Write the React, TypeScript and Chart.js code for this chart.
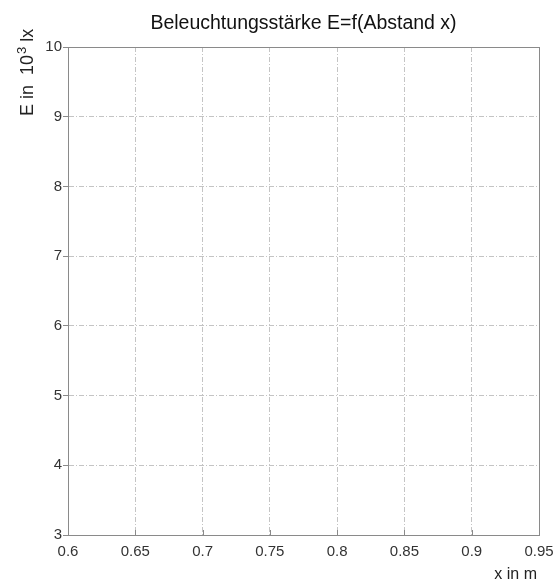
import React, { useEffect, useRef } from "react";
import { Chart, registerables } from "chart.js";

Chart.register(...registerables);

const xTicks: number[] = [0.6, 0.65, 0.7, 0.75, 0.8, 0.85, 0.9, 0.95];
const yTicks: number[] = [3, 4, 5, 6, 7, 8, 9, 10];
const xLabels: string[] = ["0.6", "0.65", "0.7", "0.75", "0.8", "0.85", "0.9", "0.95"];
const yLabels: string[] = ["3", "4", "5", "6", "7", "8", "9", "10"];
const titleText = "Beleuchtungsstärke E=f(Abstand x)";
const xTitle = "x in m";
const yTitleMain = "E in 10";
const yTitleSup = "3";
const yTitleEnd = " lx";

const FONT = "'Liberation Sans', Arial, sans-serif";

export default function App() {
  const ref = useRef<HTMLCanvasElement | null>(null);
  useEffect(() => {
    if (!ref.current) return;
    const decor = {
      id: "decor",
      afterDraw(chart: any) {
        const ctx = chart.ctx as CanvasRenderingContext2D;
        const a = chart.chartArea;
        const xs = chart.scales.x;
        ctx.save();
        // frame
        ctx.strokeStyle = "#8a8a8a";
        ctx.lineWidth = 1;
        ctx.setLineDash([]);
        ctx.strokeRect(a.left + 0.5, a.top + 0.5, a.right - a.left, a.bottom - a.top);
        // inward x ticks
        ctx.beginPath();
        xTicks.forEach((v) => {
          const px = Math.round(xs.getPixelForValue(v)) + 0.5;
          ctx.moveTo(px, a.bottom);
          ctx.lineTo(px, a.bottom - 5);
        });
        ctx.stroke();
        // title
        ctx.fillStyle = "#111";
        ctx.font = `19.5px ${FONT}`;
        ctx.textAlign = "center";
        ctx.textBaseline = "alphabetic";
        ctx.fillText(titleText, (a.left + a.right) / 2, 29);
        // x title
        ctx.font = `16px ${FONT}`;
        ctx.textAlign = "right";
        ctx.fillStyle = "#222";
        ctx.fillText(xTitle, a.right - 2, 579);
        // y title rotated
        ctx.translate(33, 116);
        ctx.rotate(-Math.PI / 2);
        ctx.textAlign = "left";
        ctx.font = `18px ${FONT}`;
        let x = 0;
        ctx.fillText("E in  10", x, 0);
        x += ctx.measureText("E in  10").width + 1;
        ctx.font = `13px ${FONT}`;
        ctx.fillText(yTitleSup, x, -7);
        x += ctx.measureText(yTitleSup).width;
        ctx.font = `18px ${FONT}`;
        ctx.fillText(yTitleEnd, x, 0);
        ctx.restore();
      },
    };
    const chart = new Chart(ref.current, {
      type: "scatter",
      data: { datasets: [{ data: [] }] },
      plugins: [decor],
      options: {
        animation: false,
        responsive: false,
        layout: { padding: { left: 0, top: 47, right: 17, bottom: 0 } },
        plugins: { legend: { display: false }, tooltip: { enabled: false }, title: { display: false } },
        scales: {
          x: {
            type: "linear",
            min: 0.6,
            max: 0.95,
            afterBuildTicks: (s: any) => {
              s.ticks = xTicks.map((v) => ({ value: v }));
            },
            afterFit: (s: any) => {
              s.height = 47;
              s.paddingLeft = 0;
              s.paddingRight = 0;
            },
            ticks: {
              autoSkip: false,
              maxRotation: 0,
              padding: 8,
              color: "#333",
              font: { family: FONT, size: 15 },
              callback: (v: any, i: number) => xLabels[i],
            },
            grid: { color: "#c4c4c4", lineWidth: 1, drawTicks: false },
            border: { display: true, color: "#8a8a8a", dash: [5, 2, 1, 2] },
          },
          y: {
            type: "linear",
            min: 3,
            max: 10,
            afterBuildTicks: (s: any) => {
              s.ticks = yTicks.map((v) => ({ value: v }));
            },
            afterFit: (s: any) => {
              s.width = 68;
              s.paddingTop = 0;
              s.paddingBottom = 0;
            },
            ticks: {
              autoSkip: false,
              padding: 1,
              color: "#333",
              font: { family: FONT, size: 15 },
              callback: (v: any, i: number) => yLabels[i],
            },
            grid: {
              color: "#c4c4c4",
              lineWidth: 1,
              drawTicks: true,
              tickLength: 5,
              tickColor: "#8a8a8a",
              tickBorderDash: [],
            },
            border: { display: true, color: "#8a8a8a", dash: [5, 2, 1, 2] },
          },
        },
      },
    });
    return () => chart.destroy();
  }, []);
  return (
    <div style={{ position: "absolute", left: 0, top: 0, width: 556, height: 582, background: "#fff" }}>
      <canvas ref={ref} width={556} height={582} />
    </div>
  );
}
